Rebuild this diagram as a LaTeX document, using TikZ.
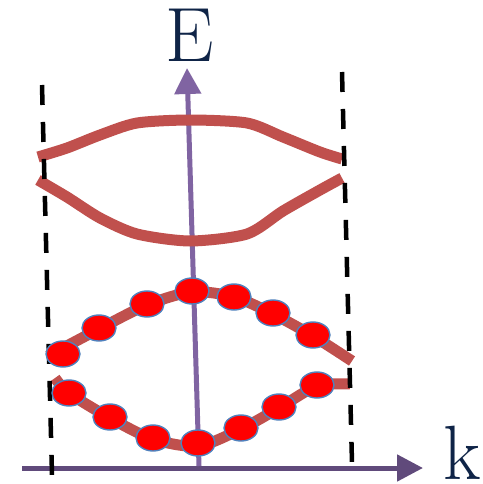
\documentclass[tikz,border=0pt]{standalone}
\usepackage{tikz}
\usetikzlibrary{arrows.meta, positioning, shapes.geometric}

\definecolor{axispurple}{RGB}{128,100,162}
\definecolor{axisdark}{RGB}{96,74,123}
\definecolor{bandred}{RGB}{192,80,77}
\definecolor{labelnavy}{RGB}{15,36,71}
\definecolor{dotblue}{RGB}{79,129,189}

\begin{document}
\begin{tikzpicture}[
            x=1pt, y=-1pt,
            >={Triangle[length=26pt,width=26pt]},
            band/.style={draw=bandred, line width=11pt, line join=round},
            electron/.style={ellipse, fill=red, draw=dotblue, line width=1.4pt,
                             minimum width=34pt, minimum height=26pt, inner sep=0pt},
            zone/.style={draw=black, line width=4.5pt, dash pattern=on 20pt off 17pt},
            axislabel/.style={text=labelnavy, font=\fontsize{77}{77}\selectfont, inner sep=0pt}
        ]
        \useasboundingbox (0,0) rectangle (482,484);

        % Define axes
        \coordinate (kstart) at (22,468);
        \coordinate (kend) at (423,468);
        \coordinate (estart) at (199,466);
        \coordinate (eend) at (187,68);
        \node[axislabel] (E) at (190,35) {E};
        \node[axislabel, anchor=base west] (k) at (443,479) {k};

        % Zone boundaries
        \coordinate (lefttop) at (42,85);
        \coordinate (leftbot) at (52,475);
        \coordinate (righttop) at (342,72);
        \coordinate (rightbot) at (352,463);

        % Draw axes
        \draw[->, draw=axisdark, fill=axisdark, line width=5pt] (kstart) -- (kend);
        \draw[->, draw=axispurple, fill=axispurple, line width=5pt] (estart) -- (eend);

        % Draw bands
        \draw[band] plot[smooth, tension=0.45] coordinates
            {(38,157) (67,148) (100,135) (137,123) (190,120) (247,123) (283,137) (320,152) (342,159)};
        \draw[band] plot[smooth, tension=0.45] coordinates
            {(38,180) (67,197) (100,218) (137,234) (190,241) (247,234) (283,211) (320,190) (342,178)};
        \draw[band] plot[smooth, tension=0.5] coordinates
            {(48,356) (99,329) (147,305) (192,292) (234,297) (273,314) (313,336) (352,361)};
        \draw[band] plot[smooth, tension=0.5] coordinates
            {(55,378) (69,393) (110,418) (153,439) (198,446) (241,429) (279,408) (317,386) (350,384)};

        \draw[zone] (lefttop) -- (leftbot);
        \draw[zone] (righttop) -- (rightbot);

        % Electrons
        \foreach \n/\p in {1/{63,354}, 2/{99,328}, 3/{147,304}, 4/{192,291}, 5/{234,297},
                           6/{273,313}, 7/{313,335}, 8/{69,393}, 9/{110,417}, 10/{153,438},
                           11/{198,443}, 12/{241,428}, 13/{279,407}, 14/{317,385}}
            \node[electron] (v\n) at (\p) {};
        \end{tikzpicture}
\end{document}
